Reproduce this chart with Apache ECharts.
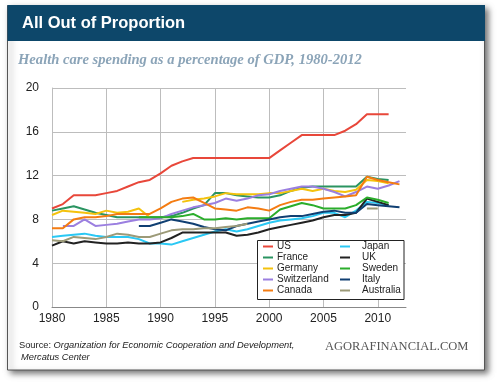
<!DOCTYPE html>
<html><head><meta charset="utf-8">
<script src="https://cdn.jsdelivr.net/npm/echarts@6/dist/echarts.min.js"></script>
<style>html,body{margin:0;padding:0;background:#fff}#c{width:500px;height:384px}</style>
</head><body><div id="c"></div>
<script>
var years = [1980,1981,1982,1983,1984,1985,1986,1987,1988,1989,1990,1991,1992,1993,1994,1995,1996,1997,1998,1999,2000,2001,2002,2003,2004,2005,2006,2007,2008,2009,2010,2011,2012];
var US = [9.0,9.4,10.2,10.2,10.2,10.4,10.6,11.0,11.4,11.6,12.2,12.9,13.3,13.6,13.6,13.6,13.6,13.6,13.6,13.6,13.6,14.3,15.0,15.7,15.7,15.7,15.7,16.1,16.7,17.6,17.6,17.6,null];
var France = [8.8,9.0,9.2,8.9,8.6,8.4,8.2,8.2,8.2,8.2,8.2,8.3,8.6,9.0,9.3,10.4,10.4,10.2,10.1,10.0,10.0,10.2,10.6,10.9,11.0,11.0,11.0,11.0,11.0,11.9,11.7,11.6,null];
var Germany = [8.4,8.8,8.7,8.6,8.5,8.8,8.6,8.7,9.0,8.2,null,null,9.6,9.8,9.9,10.1,10.4,10.3,10.3,10.3,10.4,10.4,10.6,10.8,10.6,10.8,10.6,10.5,10.7,11.6,11.5,11.3,null];
var Switzerland = [null,7.4,7.4,8.0,7.4,7.5,7.6,7.8,8.0,8.0,8.1,8.5,8.8,9.1,9.3,9.5,9.9,9.7,9.9,10.2,10.3,10.6,10.8,11.0,11.0,10.8,10.5,10.1,10.5,11.0,10.8,11.1,11.5];
var Canada = [7.2,7.2,8.0,8.2,8.2,8.3,8.5,8.5,8.5,8.5,9.0,9.6,9.9,10.0,9.5,9.0,8.9,8.8,9.1,9.0,8.8,9.3,9.6,9.8,9.8,9.9,10.0,10.1,10.2,11.9,11.6,11.4,11.2];
var Japan = [6.4,6.5,6.6,6.7,6.5,6.4,6.4,6.4,6.2,5.8,5.8,5.7,6.0,6.3,6.6,6.9,7.1,6.9,7.1,7.4,7.7,7.9,8.0,8.1,8.3,8.6,8.6,8.2,8.8,9.6,9.5,9.3,null];
var UK = [5.6,6.0,5.8,6.0,5.9,5.8,5.8,5.9,5.8,5.8,5.9,6.3,6.8,6.8,6.8,6.8,6.8,6.5,6.6,6.8,7.1,7.3,7.5,7.7,7.9,8.2,8.4,8.4,8.6,9.9,9.6,9.3,null];
var Sweden = [null,null,null,null,null,null,null,null,8.2,8.2,8.2,8.2,8.3,8.5,8.0,8.0,8.1,8.0,8.1,8.1,8.1,8.9,9.2,9.5,9.3,9.0,9.0,9.0,9.3,10.0,9.8,9.5,null];
var Italy = [null,null,null,null,null,null,null,null,7.4,7.4,7.7,8.0,7.8,7.6,7.3,7.1,7.0,7.4,7.6,7.8,8.0,8.2,8.3,8.3,8.5,8.7,8.8,8.6,8.6,9.4,9.3,9.2,9.1];
var Australia = [6.1,6.0,6.4,6.3,6.2,6.4,6.7,6.6,6.4,6.4,6.7,7.0,7.1,7.1,7.2,7.2,7.3,7.4,7.6,null,null,null,null,null,null,null,null,null,null,9.0,9.0,null,null];

var names = ['US','France','Germany','Switzerland','Canada','Japan','UK','Sweden','Italy','Australia'];
var values = [US,France,Germany,Switzerland,Canada,Japan,UK,Sweden,Italy,Australia];
var colors = ['#e8473a','#2a9461','#f4c20d','#9b7fe0','#f47c12','#2ac8f4','#222222','#2bad2b','#103f72','#9c9a78'];
var yTicks = [0,4,8,12,16,20];
var xTicks = [1980,1985,1990,1995,2000,2005,2010];

var titleText = 'All Out of Proportion';
var subtitleText = 'Health care spending as a percentage of GDP, 1980-2012';
var sourceLead = 'Source: ';
var sourceLine1 = 'Organization for Economic Cooperation and Development,';
var sourceLine2 = 'Mercatus Center';
var brandText = 'AGORAFINANCIAL.COM';

var series = names.map(function(n,i){
  return {
    name:n, type:'line', showSymbol:false, symbol:'none', connectNulls:false,
    lineStyle:{width:2,color:colors[i]}, itemStyle:{color:colors[i]},
    data: years.map(function(y,k){return [y, values[i][k]];}),
    z: 2
  };
});

var chart = echarts.init(document.getElementById('c'), null, {renderer:'canvas'});
var font = 'Liberation Sans, Arial, Helvetica, sans-serif';
chart.setOption({
  backgroundColor:'#ffffff',
  animation:false,
  grid:{left:52,right:94,top:88,bottom:77},
  xAxis:{type:'value',min:1980,max:2012.6,interval:5,
    axisLine:{show:true,lineStyle:{color:'#888',width:1}},
    axisTick:{show:false},
    axisLabel:{color:'#222',fontSize:12,fontFamily:font,margin:6,showMaxLabel:false,
      formatter:function(v){return xTicks.indexOf(v)>=0?String(v):'';}},
    splitLine:{show:true,showMaxLine:false,lineStyle:{color:'#bdbdbd',width:1}}
  },
  yAxis:{type:'value',min:0,max:20,interval:4,
    axisLine:{show:true,lineStyle:{color:'#bdbdbd',width:1}},
    axisTick:{show:false},
    axisLabel:{color:'#222',fontSize:12,fontFamily:font,margin:13,
      formatter:function(v){return yTicks.indexOf(v)>=0?String(v):'';}},
    splitLine:{show:true,lineStyle:{color:'#bdbdbd',width:1}}
  },
  legend:[
    {data:names.slice(0,5),orient:'vertical',left:263,top:241,padding:0,itemGap:0,
     icon:'rect',itemWidth:10,itemHeight:2,z:6,
     textStyle:{fontSize:10,fontFamily:font,color:'#222',lineHeight:11,padding:[0,0,0,-1]}},
    {data:names.slice(5),orient:'vertical',left:340,top:241,padding:0,itemGap:0,
     icon:'rect',itemWidth:10,itemHeight:2,z:6,
     textStyle:{fontSize:10,fontFamily:font,color:'#222',lineHeight:11,padding:[0,0,0,7]}}
  ],
  graphic:[
    {type:'rect',z:-10,shape:{x:7.5,y:5.5,width:477,height:364.5},
     style:{fill:'#ffffff',stroke:'#555',lineWidth:1,shadowBlur:6,shadowOffsetX:3,shadowOffsetY:3,shadowColor:'rgba(0,0,0,0.55)'}},
    {type:'rect',z:-9,shape:{x:7.5,y:5,width:477.5,height:36},style:{fill:'#0d476a'}},
    {type:'text',z:10,left:22,top:15,style:{text:titleText,fill:'#ffffff',font:'bold 16.5px '+font}},
    {type:'text',z:10,left:18,top:53,style:{text:subtitleText,fill:'#8ba4b8',font:'italic bold 14.6px "Liberation Serif", "DejaVu Serif", serif'}},
    {type:'rect',z:5,shape:{x:257.5,y:240.5,width:146.5,height:59},style:{fill:'#ffffff',stroke:'#222',lineWidth:1}},
    {type:'text',z:10,left:19,top:341,style:{
      text:'{n|'+sourceLead+'}{i|'+sourceLine1+'}',
      rich:{n:{font:'9.3px '+font,fill:'#222'},i:{font:'italic 9.3px '+font,fill:'#222'}}}},
    {type:'text',z:10,left:21,top:353,style:{text:sourceLine2,fill:'#222',font:'italic 9.3px '+font}},
    {type:'text',z:10,left:325,top:340,style:{text:brandText,fill:'#555',font:'12.5px "Liberation Serif", "Times New Roman", serif'}}
  ],
  series:series
});
</script></body></html>
